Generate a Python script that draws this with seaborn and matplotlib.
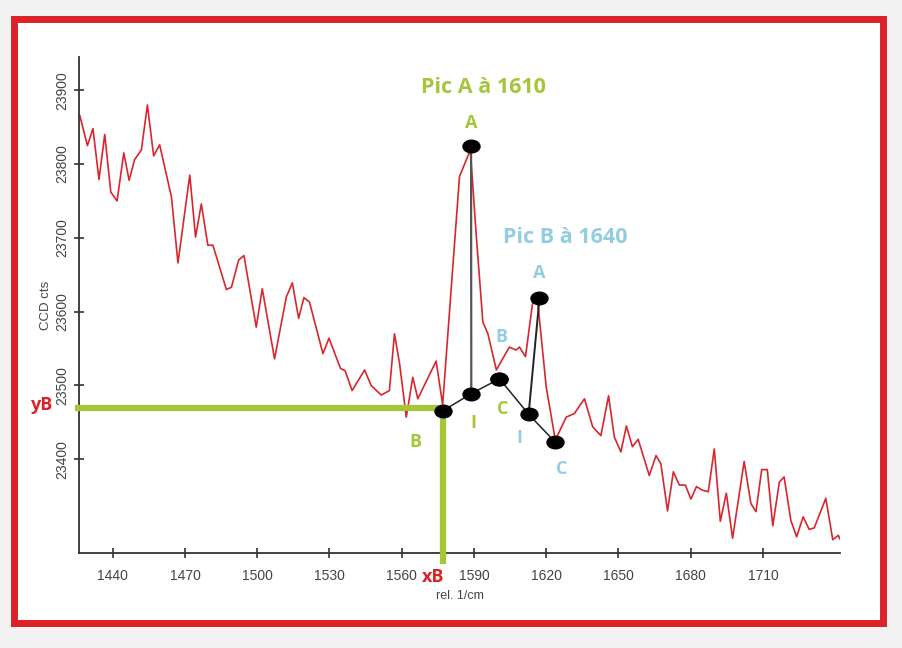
import matplotlib
matplotlib.use("Agg")
import matplotlib.pyplot as plt
import seaborn as sns
import pandas as pd
from matplotlib.path import Path
from matplotlib.patches import Rectangle
from matplotlib.markers import MarkerStyle

# spectre Raman
wavenumber = [1426.3, 1429.5, 1431.8, 1434.3, 1436.7, 1439.2, 1441.8, 1444.6, 1446.8, 1449.1,
              1451.9, 1454.4, 1457.0, 1459.5, 1464.4, 1467.1, 1472.0, 1474.4, 1476.8, 1479.5,
              1481.6, 1487.2, 1489.3, 1492.3, 1494.5, 1499.6, 1502.1, 1507.2, 1512.1, 1514.6,
              1517.2, 1519.4, 1521.7, 1527.3, 1529.8, 1534.6, 1536.5, 1539.4, 1544.6, 1547.3,
              1551.5, 1554.9, 1557.0, 1559.1, 1561.9, 1564.6, 1566.7, 1574.3, 1577.0, 1584.0,
              1588.5, 1590.9, 1593.7, 1595.8, 1599.3, 1604.7, 1607.5, 1608.9, 1611.4, 1614.4,
              1616.5, 1620.0, 1623.8, 1628.3, 1631.7, 1635.9, 1639.3, 1642.7, 1645.9, 1648.3,
              1651.0, 1653.3, 1655.8, 1658.2, 1662.8, 1665.6, 1667.6, 1670.4, 1672.8, 1675.3,
              1677.8, 1680.1, 1682.4, 1684.9, 1687.3, 1689.8, 1692.3, 1694.8, 1697.4, 1702.2,
              1705.0, 1707.1, 1709.5, 1711.8, 1714.1, 1716.8, 1718.8, 1721.6, 1724.0, 1726.7,
              1729.2, 1731.3, 1736.1, 1739.0, 1741.3, 1741.9]
counts = [23866, 23825, 23848, 23779, 23840, 23762, 23750, 23815, 23778, 23806,
          23819, 23880, 23811, 23826, 23755, 23666, 23785, 23701, 23746, 23690,
          23690, 23630, 23633, 23670, 23676, 23579, 23631, 23536, 23620, 23639,
          23591, 23619, 23613, 23543, 23564, 23523, 23520, 23493, 23521, 23500,
          23487, 23493, 23570, 23530, 23457, 23511, 23482, 23533, 23474, 23783,
          23819, 23706, 23586, 23570, 23521, 23552, 23548, 23552, 23539, 23613,
          23613, 23498, 23426, 23457, 23462, 23482, 23444, 23432, 23486, 23430,
          23410, 23445, 23417, 23427, 23378, 23405, 23394, 23330, 23383, 23365,
          23365, 23346, 23363, 23358, 23356, 23414, 23316, 23354, 23293, 23397,
          23340, 23329, 23386, 23386, 23310, 23369, 23376, 23317, 23295, 23322,
          23305, 23307, 23347, 23291, 23297, 23292]

# points construits : A (sommet), B, I, C
picA_labels = ['A', 'B', 'I', 'C']
picA_x = [1588.8, 1577.3, 1588.9, 1600.6]
picA_y = [23825, 23466, 23489, 23509]
picB_labels = ['A', 'B', 'I', 'C']
picB_x = [1617.2, 1600.6, 1612.7, 1623.8]
picB_y = [23618, 23509, 23461, 23423]

xB = 1577.3
yB = 23469

green = '#a6c63a'
blue = '#93cde0'
red = '#dc2128'

sns.set_style("ticks")
plt.rcParams['font.family'] = ['Liberation Sans', 'DejaVu Sans']

fig = plt.figure(figsize=(9.02, 6.48), dpi=100, facecolor='#f2f2f2')
# cadre rouge
fig.patches.append(Rectangle((14 / 902, 1 - 623 / 648), 869 / 902, 604 / 648,
                             transform=fig.transFigure, facecolor='white',
                             edgecolor=red, linewidth=5, zorder=-10))
ax = fig.add_axes([79 / 902, 1 - 553 / 648, 761 / 902, 496 / 648])
ax.set_facecolor('none')

df = pd.DataFrame({'rel': wavenumber, 'cts': counts})
sns.lineplot(data=df, x='rel', y='cts', sort=False, color='#d9262e', lw=1.2, ax=ax)

ax.set_xlim(1426, 1742)
ax.set_ylim(23273, 23945)
ax.set_xticks(range(1440, 1711, 30))
ax.set_yticks(range(23400, 23901, 100))
ax.tick_params(direction='inout', length=7, width=1.2, colors='#333333', labelsize=10,
               labelcolor='#444444')
ax.tick_params(axis='x', pad=8)
for lab in ax.get_yticklabels():
    lab.set_rotation(90)
    lab.set_va('center')
for s in ['top', 'right']:
    ax.spines[s].set_visible(False)
for s in ['left', 'bottom']:
    ax.spines[s].set_color('#333333')
    ax.spines[s].set_linewidth(1.3)

# lignes vertes xB / yB
ax.plot([1424.2, xB], [yB, yB], color=green, lw=4.5, clip_on=False, zorder=3,
        solid_capstyle='butt')
ax.plot([xB, xB], [yB, 23258], color=green, lw=4.5, clip_on=False, zorder=3,
        solid_capstyle='butt')

# constructions
ax.plot([picA_x[1], picA_x[2], picA_x[3], picB_x[2], picB_x[3]],
        [picA_y[1], picA_y[2], picA_y[3], picB_y[2], picB_y[3]], color='#222222', lw=1.1, zorder=4)
ax.plot([picA_x[2], picA_x[0]], [picA_y[2], picA_y[0]], color='#555555', lw=1.6, zorder=4)
ax.plot([picB_x[2], picB_x[0]], [picB_y[2], picB_y[0]], color='#222222', lw=1.4, zorder=4)

ell = Path.unit_circle().transformed(matplotlib.transforms.Affine2D().scale(1.35, 1.0))
marker = MarkerStyle(ell)
pts = pd.DataFrame({'x': picA_x + picB_x, 'y': picA_y + picB_y})
sns.scatterplot(data=pts, x='x', y='y', marker=marker, s=150, color='black',
                edgecolor='black', zorder=5, ax=ax, legend=False)
ax.set_xlabel('rel. 1/cm', fontsize=9, color='#444444', labelpad=5)
ax.set_ylabel('CCD cts', fontsize=9.5, color='#444444', labelpad=2)

offA = [(0, 16), (-20, -23), (1.5, -21), (2, -22)]
offB = [(0, 18), (1.5, 30), (-7, -17), (4.5, -19)]
for lab, x, y, o in zip(picA_labels, picA_x, picA_y, offA):
    ax.annotate(lab, (x, y), xytext=o, textcoords='offset points', ha='center', va='center',
                color=green, fontsize=13, fontweight='bold', family='Open Sans', zorder=6)
for lab, x, y, o in zip(picB_labels, picB_x, picB_y, offB):
    ax.annotate(lab, (x, y), xytext=o, textcoords='offset points', ha='center', va='center',
                color=blue, fontsize=13, fontweight='bold', family='Open Sans', zorder=6)

ax.text(1594, 23904, 'Pic A à 1610', color=green, fontsize=15.5, fontweight='bold',
        family='Open Sans', ha='center', va='center')
ax.text(1628, 23701, 'Pic B à 1640', color=blue, fontsize=15.5, fontweight='bold',
        family='Open Sans', ha='center', va='center')

fig.text(42 / 902, 1 - 405 / 648, 'yB', color=red, fontsize=13, fontweight='bold',
         family='Open Sans', ha='center', va='center')
fig.text(433 / 902, 1 - 577 / 648, 'xB', color=red, fontsize=13, fontweight='bold',
         family='Open Sans', ha='center', va='center', zorder=10)

plt.savefig('out.png', dpi=100, facecolor=fig.get_facecolor())
